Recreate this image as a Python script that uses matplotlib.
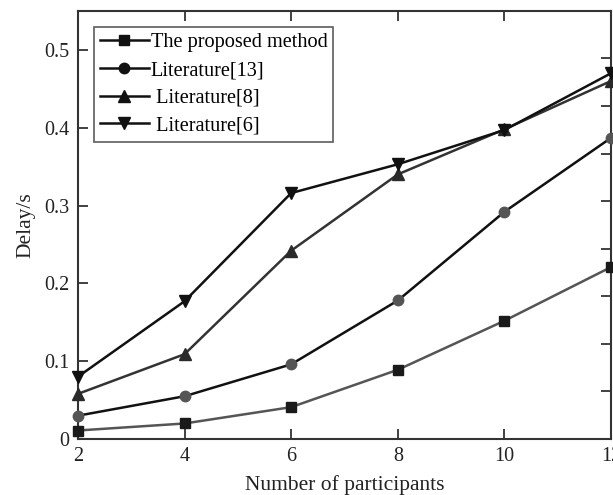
import matplotlib
matplotlib.use("Agg")
import matplotlib.pyplot as plt

participants = [2, 4, 6, 8, 10, 12]
proposed = [0.011, 0.020, 0.041, 0.089, 0.152, 0.221]
lit13 = [0.030, 0.055, 0.096, 0.178, 0.292, 0.387]
lit8 = [0.058, 0.109, 0.242, 0.340, 0.398, 0.460]
lit6 = [0.080, 0.177, 0.316, 0.353, 0.397, 0.470]
labels = ["The proposed method", "Literature[13]", " Literature[8]", " Literature[6]"]
xticks = [2, 4, 6, 8, 10, 12]
yticks = [0, 0.1, 0.2, 0.3, 0.4, 0.5]
ytick_labels = ["0", "0.1", "0.2", "0.3", "0.4", "0.5"]

plt.rcParams['font.family'] = ['Liberation Serif', 'DejaVu Serif']

fig = plt.figure(figsize=(6.13, 4.95), dpi=100)
ax = fig.add_axes([0.127, 0.113, 0.870, 0.865])

ax.plot(participants, proposed, color='#555555', lw=1.8, marker='s', ms=7,
        mfc='#1a1a1a', mec='#1a1a1a', label=labels[0], clip_on=False, zorder=3)
ax.plot(participants, lit13, color='#111111', lw=1.8, marker='o', ms=7.5,
        mfc='#555555', mec='#555555', label=labels[1], clip_on=False, zorder=3)
ax.plot(participants, lit8, color='#333333', lw=1.8, marker='^', ms=8,
        mfc='#2a2a2a', mec='#2a2a2a', label=labels[2], clip_on=False, zorder=3)
ax.plot(participants, lit6, color='#111111', lw=1.8, marker='v', ms=8,
        mfc='#111111', mec='#111111', label=labels[3], clip_on=False, zorder=3)

ax.set_xlim(2, 12)
ax.set_ylim(0, 0.55)
ax.set_xticks(xticks)
ax.set_yticks(yticks)
ax.set_yticklabels(ytick_labels)
ax.tick_params(direction='in', length=7, width=1.3, labelsize=14.5, colors='#333333',
               labelcolor='#222222', top=True, right=False, pad=6)

for s in ax.spines.values():
    s.set_linewidth(1.5)
    s.set_color('#333333')

ax2 = ax.twinx()
ax2.set_ylim(0, 9)
ax2.set_yticks(range(10))
ax2.tick_params(direction='in', length=7, width=1.3, labelright=False, colors='#333333')
for s in ax2.spines.values():
    s.set_visible(False)

ax.set_xlabel("Number of participants", fontsize=15.5, color='#222222', labelpad=6)
ax.set_ylabel("Delay/s", fontsize=15.5, color='#222222', labelpad=6)

leg = ax.legend(loc='upper left', bbox_to_anchor=(0.030, 0.962), fontsize=14.6,
                frameon=True, fancybox=False, edgecolor='#333333', handlelength=2.4,
                handletextpad=0.1, borderpad=0.3, labelspacing=0.42, borderaxespad=0)
leg.get_frame().set_linewidth(1.2)
for h in leg.legend_handles:
    h.set_color('#111111')
    h.set_markerfacecolor('#111111')
    h.set_markeredgecolor('#111111')
leg.set_zorder(5)

fig.savefig("out.png", dpi=100)
